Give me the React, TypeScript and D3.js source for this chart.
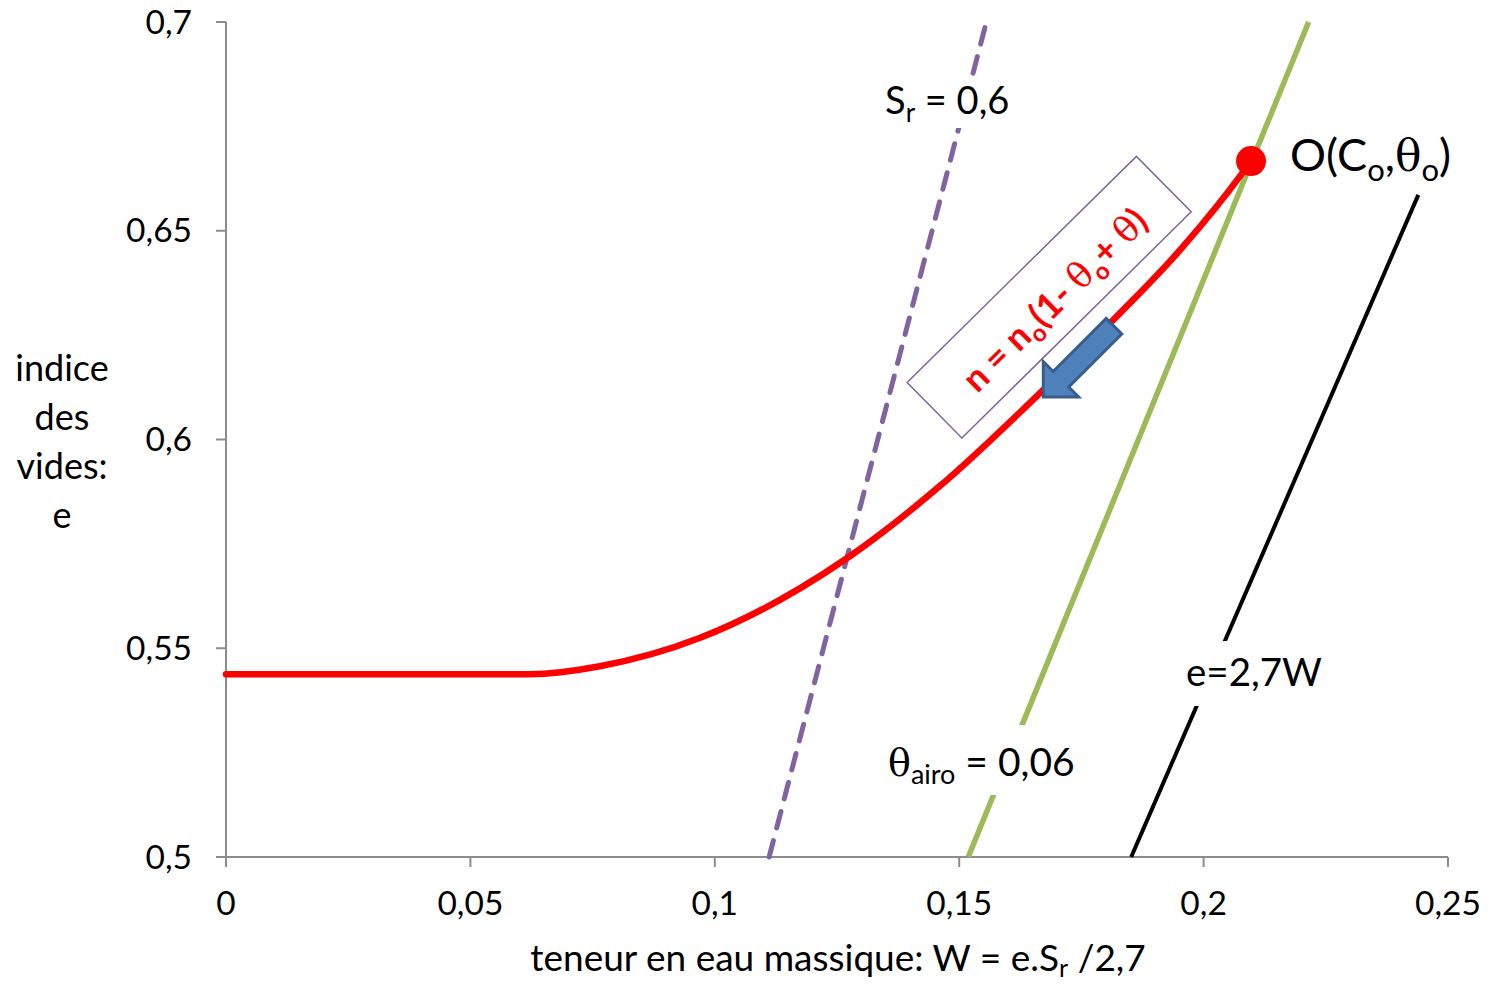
import React from "react";
import * as d3 from "d3";

const W_TICKS = [0, 0.05, 0.1, 0.15, 0.2, 0.25];
const W_TICK_LABELS = ["0", "0,05", "0,1", "0,15", "0,2", "0,25"];
const E_TICKS = [0.5, 0.55, 0.6, 0.65, 0.7];
const E_TICK_LABELS = ["0,5", "0,55", "0,6", "0,65", "0,7"];

// red path n = n0(1 - theta0 + theta): [W, e]
const CURVE_W = [0, 0.0356, 0.0622, 0.0765, 0.097, 0.1175, 0.1277, 0.1461, 0.1665, 0.1815, 0.1952, 0.2081, 0.2097];
const CURVE_E = [0.5438, 0.5438, 0.5438, 0.5457, 0.5525, 0.5644, 0.5721, 0.5889, 0.6111, 0.6286, 0.6454, 0.6641, 0.6667];
const POINT_O = [0.2097, 0.6667];

// reference lines: W as a function of e
const GS = 2.7;
const SR = 0.6;
const THETA_AIR = 0.06;
const LINE_E_RANGE = [0.5, 0.7];
const BLACK_E_RANGE = [0.5, 0.6586];

const Y_LABEL = ["indice", "des", "vides:", "e"];

const WIDTH = 1490;
const HEIGHT = 984;
const L = 226, R = 1448, T = 22, B = 857;

const FONT = "Lato, 'Open Sans', sans-serif";
const GREEK = "'DejaVu Serif', 'Liberation Serif', serif";

export default function App() {
  const x = d3.scaleLinear().domain([0, 0.25]).range([L, R]);
  const y = d3.scaleLinear().domain([0.5, 0.7]).range([B, T]);

  const curvePts: [number, number][] = CURVE_W.map((w, i) => [w, CURVE_E[i]]);
  const curveGen = d3
    .line<[number, number]>()
    .x((d) => x(d[0]))
    .y((d) => y(d[1]))
    .curve(d3.curveMonotoneX);

  const lineGen = d3
    .line<[number, number]>()
    .x((d) => x(d[0]))
    .y((d) => y(d[1]));

  const srLine: [number, number][] = LINE_E_RANGE.map((e) => [(e * SR) / GS, e]);
  const airLine: [number, number][] = LINE_E_RANGE.map((e) => [((1 - THETA_AIR) * e - THETA_AIR) / GS, e]);
  const blackLine: [number, number][] = BLACK_E_RANGE.map((e) => [e / GS, e]);

  const axisColor = "#8c8c8c";

  // annotation anchors (data coords)
  const boxC = [x(0.1684), y(0.6341)];
  const arrowTip = [x(0.1672), y(0.6102)];

  const sub = (t: string, size: number, dy: number) => (
    <tspan fontSize={size} dy={dy}>{t}</tspan>
  );

  return (
    <svg
      width={WIDTH}
      height={HEIGHT}
      style={{ position: "absolute", left: 0, top: 0, background: "#fff" }}
      fontFamily={FONT}
    >
      <rect x={0} y={0} width={WIDTH} height={HEIGHT} fill="#fff" />
      {/* axes */}
      <line x1={L} x2={L} y1={T} y2={B} stroke={axisColor} strokeWidth={2} />
      <line x1={L - 10} x2={R} y1={B} y2={B} stroke={axisColor} strokeWidth={2} />
      {E_TICKS.map((e, i) => (
        <g key={"e" + i}>
          <line x1={L - 10} x2={L} y1={y(e)} y2={y(e)} stroke={axisColor} strokeWidth={2} />
          <text x={192} y={y(e)} dy="0.35em" textAnchor="end" fontSize={33.5} fill="#000">
            {E_TICK_LABELS[i]}
          </text>
        </g>
      ))}
      {W_TICKS.map((w, i) => (
        <g key={"w" + i}>
          <line x1={x(w)} x2={x(w)} y1={B} y2={B + 10} stroke={axisColor} strokeWidth={2} />
          <text x={x(w)} y={915} textAnchor="middle" fontSize={33.5} fill="#000">
            {W_TICK_LABELS[i]}
          </text>
        </g>
      ))}

      {/* axis titles */}
      <text x={838} y={971} textAnchor="middle" fontSize={37} fill="#000">
        teneur en eau massique: W = e.S{sub("r", 25, 6)}<tspan dy={-6}> /2,7</tspan>
      </text>
      {Y_LABEL.map((s, i) => (
        <text key={s} x={62} y={368 + i * 49} dy="0.35em" textAnchor="middle" fontSize={36} fill="#000">
          {s}
        </text>
      ))}

      {/* reference lines */}
      <path d={lineGen(srLine) || ""} stroke="#8064A2" strokeWidth={5} strokeDasharray="17 13" strokeLinecap="round" fill="none" />
      <path d={lineGen(airLine) || ""} stroke="#9BBB59" strokeWidth={5.5} fill="none" />
      <path d={lineGen(blackLine) || ""} stroke="#000" strokeWidth={4} fill="none" />

      {/* labels with white background */}
      <rect x={880} y={78} width={136} height={50} fill="#fff" />
      <text x={885} y={114} fontSize={38} fill="#000">
        S{sub("r", 26, 8)}<tspan dy={-8}> = 0,6</tspan>
      </text>

      <rect x={884} y={725} width={200} height={70} fill="#fff" />
      <text x={888} y={776} fontSize={39} fill="#000">
        <tspan fontFamily={GREEK} fontSize={38}>θ</tspan>
        {sub("airo", 27, 8)}
        <tspan dy={-8}> = 0,06</tspan>
      </text>

      <rect x={1180} y={641} width={148} height={65} fill="#fff" />
      <text x={1186} y={686} fontSize={38.5} fill="#000">e=2,7W</text>

      {/* red curve */}
      <path d={curveGen(curvePts) || ""} stroke="#FF0000" strokeWidth={6.5} fill="none" strokeLinecap="round" />
      <circle cx={x(POINT_O[0])} cy={y(POINT_O[1])} r={15} fill="#FF0000" />
      <text x={1290} y={171} fontSize={45} fill="#000">
        O(C{sub("o", 31, 10)}
        <tspan dy={-10}>,</tspan>
        <tspan fontFamily={GREEK} fontSize={44}>θ</tspan>
        {sub("o", 31, 10)}
        <tspan dy={-10}>)</tspan>
      </text>

      {/* rotated equation box */}
      <g transform={`translate(${boxC[0]},${boxC[1]}) rotate(-44.6)`}>
        <rect x={-161} y={-39} width={322} height={78} fill="#fff" stroke="#8064A2" strokeWidth={1.5} />
        <text x={2} y={6} dy="0.35em" textAnchor="middle" fontSize={36} fontWeight="bold" fill="#FF0000">
          n = n{sub("o", 24, 8)}
          <tspan dy={-8}>(1- </tspan>
          <tspan fontFamily={GREEK} fontWeight="normal">θ</tspan>
          {sub("o", 24, 8)}
          <tspan dy={-8}>+ </tspan>
          <tspan fontFamily={GREEK} fontWeight="normal">θ</tspan>
          <tspan>)</tspan>
        </text>
      </g>

      {/* blue block arrow */}
      <g transform={`translate(${arrowTip[0]},${arrowTip[1]}) rotate(135)`}>
        <polygon
          points="0,0 -25,-25 -25,-11 -100,-11 -100,11 -25,11 -25,25"
          fill="#4F81BD"
          stroke="#385D8A"
          strokeWidth={3}
          strokeLinejoin="miter"
        />
      </g>
    </svg>
  );
}
